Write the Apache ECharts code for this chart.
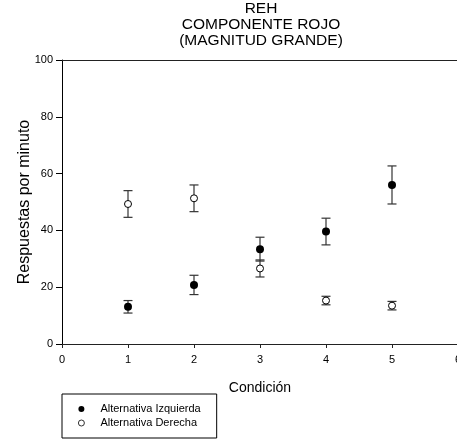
<!DOCTYPE html>
<html>
<head>
<meta charset="utf-8">
<script src="https://cdn.jsdelivr.net/npm/echarts@6/dist/echarts.min.js"></script>
<style>
html,body{margin:0;padding:0;background:#fff;}
#main{width:457px;height:441px;}
</style>
</head>
<body>
<div id="main"></div>
<script>
// ---- Data ----
var conditions = [1, 2, 3, 4, 5];
var izquierdaMean = [13.1, 20.8, 33.4, 39.6, 56.0];
var izquierdaErr  = [2.2, 3.4, 4.2, 4.7, 6.7];
var derechaMean   = [49.3, 51.3, 26.6, 15.3, 13.5];
var derechaErr    = [4.7, 4.7, 3.0, 1.5, 1.5];
var xTicks = [0, 1, 2, 3, 4, 5, 6];
var yTicks = [0, 20, 40, 60, 80, 100];
var seriesNames = ['Alternativa Izquierda', 'Alternativa Derecha'];
var titleLines = ['REH', 'COMPONENTE ROJO', '(MAGNITUD GRANDE)'];

var FONT = 'Arial, "Liberation Sans", sans-serif';

function pts(means) {
  return conditions.map(function (c, i) { return [c, means[i]]; });
}
function errs(means, e) {
  return conditions.map(function (c, i) { return [c, means[i] - e[i], means[i] + e[i]]; });
}

function errorRender(params, api) {
  var x = api.value(0);
  var lo = api.coord([x, api.value(1)]);
  var hi = api.coord([x, api.value(2)]);
  var hw = 4.5;
  var st = { stroke: '#333', lineWidth: 1.2 };
  return {
    type: 'group',
    children: [
      { type: 'line', shape: { x1: lo[0], y1: lo[1], x2: hi[0], y2: hi[1] }, style: st },
      { type: 'line', shape: { x1: lo[0] - hw, y1: lo[1], x2: lo[0] + hw, y2: lo[1] }, style: st },
      { type: 'line', shape: { x1: hi[0] - hw, y1: hi[1], x2: hi[0] + hw, y2: hi[1] }, style: st }
    ]
  };
}

var chart = echarts.init(document.getElementById('main'), null, { renderer: 'canvas' });
chart.setOption({
  animation: false,
  backgroundColor: '#fff',
  title: {
    text: titleLines.join('\n'),
    left: 261,
    top: 1,
    padding: 0,
    textAlign: 'center',
    textStyle: { fontFamily: FONT, fontSize: 15.5, fontWeight: 'normal', color: '#000', lineHeight: 16 }
  },
  legend: {
    data: [
      { name: seriesNames[0], itemStyle: { color: '#000', borderWidth: 0 } },
      { name: seriesNames[1], itemStyle: { color: '#fff', borderColor: '#000', borderWidth: 0.8 } }
    ],
    orient: 'vertical',
    left: 62,
    top: 394,
    padding: [9, 16, 9, 16],
    itemGap: 2,
    itemWidth: 28,
    itemHeight: 6,
    borderColor: '#000',
    borderWidth: 1,
    borderRadius: 0,
    textStyle: { fontFamily: FONT, fontSize: 11, color: '#000', lineHeight: 12 }
  },
  grid: { left: 62, top: 60, width: 396, bottom: 97, containLabel: false, outerBoundsMode: 'none' },
  xAxis: [{
    type: 'value',
    min: xTicks[0], max: xTicks[xTicks.length - 1], interval: 1,
    name: 'Condición',
    nameLocation: 'middle',
    nameGap: 37,
    nameMoveOverlap: false,
    nameTextStyle: { fontFamily: FONT, fontSize: 14, color: '#000' },
    axisLine: { show: true, onZero: false, lineStyle: { color: '#222', width: 1 } },
    axisTick: { show: true, inside: false, length: 4, lineStyle: { color: '#222' } },
    axisLabel: { margin: 10, fontFamily: FONT, fontSize: 11, color: '#000' },
    splitLine: { show: false }
  }, {
    type: 'value',
    position: 'top',
    min: 0, max: 6,
    axisLine: { show: true, onZero: false, lineStyle: { color: '#222', width: 1 } },
    axisTick: { show: false },
    axisLabel: { show: false },
    splitLine: { show: false }
  }],
  yAxis: {
    type: 'value',
    min: yTicks[0], max: yTicks[yTicks.length - 1], interval: 20,
    name: 'Respuestas por minuto',
    nameLocation: 'middle',
    nameGap: 29,
    nameMoveOverlap: false,
    nameTextStyle: { fontFamily: FONT, fontSize: 16, color: '#000' },
    axisLine: { show: true, onZero: false, lineStyle: { color: '#000', width: 1 } },
    axisTick: { show: true, inside: false, length: 6, lineStyle: { color: '#000' } },
    axisLabel: { margin: 9, fontFamily: FONT, fontSize: 11, color: '#000' },
    splitLine: { show: false }
  },
  series: [
    { type: 'custom', renderItem: errorRender, data: errs(izquierdaMean, izquierdaErr), z: 1, silent: true },
    { type: 'custom', renderItem: errorRender, data: errs(derechaMean, derechaErr), z: 1, silent: true },
    {
      name: seriesNames[0], type: 'scatter', data: pts(izquierdaMean), z: 3,
      symbol: 'circle', symbolSize: 8,
      itemStyle: { color: '#000', borderColor: '#000', borderWidth: 0, opacity: 1 }
    },
    {
      name: seriesNames[1], type: 'scatter', data: pts(derechaMean), z: 3,
      symbol: 'circle', symbolSize: 7,
      itemStyle: { color: '#fff', borderColor: '#000', borderWidth: 1, opacity: 1 }
    }
  ]
});
</script>
</body>
</html>
